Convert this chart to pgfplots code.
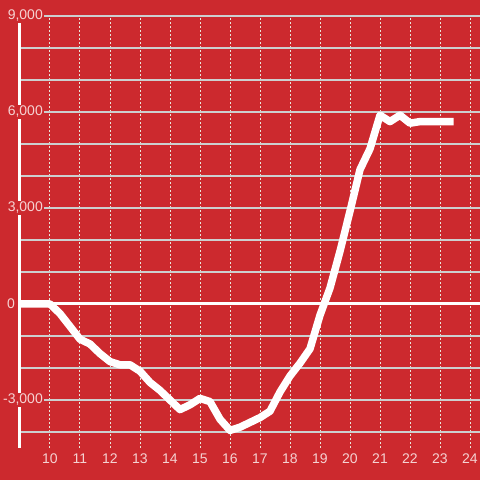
\documentclass[border=0pt]{standalone}
\usepackage{fontspec}
\setmainfont{Liberation Sans}
\usepackage{pgfplots}
\pgfplotsset{compat=1.18}

\definecolor{bgred}{HTML}{CC292E}
\definecolor{ticktext}{HTML}{F5D2D2}
\definecolor{gridgray}{HTML}{CCCFCF}
\definecolor{dotgray}{HTML}{E8E4DA}

\begin{document}
\begin{tikzpicture}
  \fill[bgred] (-20pt,-32pt) rectangle (460pt,448pt);
  \begin{axis}[
    scale only axis,
    width=460pt,
    height=432pt,
    xmin=9, xmax=24.3333,
    ymin=-4500, ymax=9000,
    axis x line=bottom,
    axis y line=left,
    x axis line style={draw=none},
    y axis line style={-, white, line width=3pt},
    major tick length=0pt,
    minor tick length=0pt,
    xtick={10,...,24},
    ytick={-3000,3000,6000,9000},
    minor ytick={-4000,-2000,-1000,1000,2000,4000,5000,7000,8000},
    extra y ticks={0},
    extra y tick style={
      yticklabel style={xshift=-28pt, fill=none},
      y grid style={white, line width=3pt, solid}
    },
    xmajorgrids,
    ymajorgrids,
    yminorgrids,
    x grid style={dotgray, line width=1pt, dash pattern=on 2pt off 2pt},
    y grid style={gridgray, line width=1.3pt},
    tick label style={font=\fontsize{14}{16}\selectfont, text=ticktext},
    yticklabel style={anchor=east, inner sep=1pt, fill=bgred, xshift=24pt},
    xticklabel style={anchor=north, inner sep=0pt, yshift=-6pt},
    /pgf/number format/.cd, 1000 sep={,}, assume math mode=true,
  ]
  \addplot[white, line width=7.5pt, line join=round, line cap=rect] coordinates {
    (9,0) (10,0)
    (10.333,-300) (10.667,-700) (11,-1100)
    (11.333,-1250) (11.667,-1550) (12,-1800)
    (12.333,-1900) (12.667,-1900) (13,-2100)
    (13.333,-2450) (13.667,-2700) (14,-3000)
    (14.333,-3300) (14.667,-3150) (15,-2950)
    (15.333,-3050) (15.667,-3600) (16,-3950)
    (16.333,-3850) (16.667,-3700) (17,-3550)
    (17.333,-3350) (17.667,-2750) (18,-2250)
    (18.333,-1850) (18.667,-1400) (19,-350)
    (19.333,500) (19.667,1650) (20,2900)
    (20.333,4200) (20.667,4850) (21,5900)
    (21.333,5700) (21.667,5900) (22,5650)
    (22.333,5700) (22.667,5700) (23,5700)
    (23.333,5700)
  };
  \end{axis}
  \pgfresetboundingbox
  \path (-20pt,-32pt) rectangle (460pt,448pt);
\end{tikzpicture}
\end{document}
